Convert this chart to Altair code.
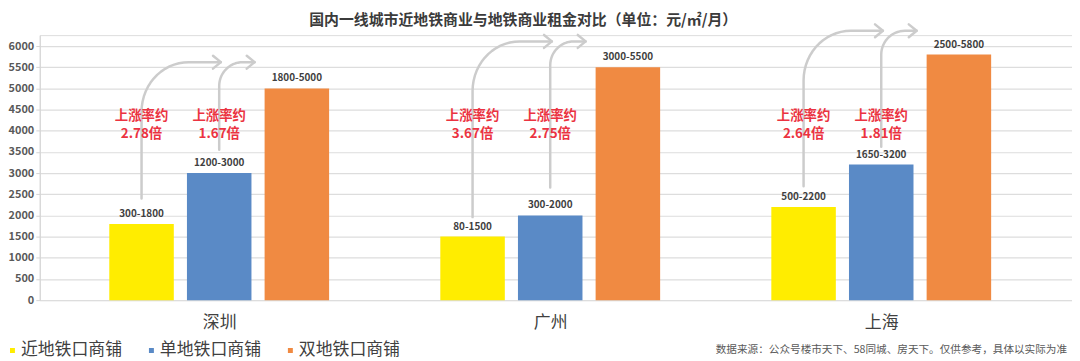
import json
import numpy as np
import pandas as pd
import altair as alt

# ---------------- data ----------------
cities = ["深圳", "广州", "上海"]
shop_types = ["近地铁口商铺", "单地铁口商铺", "双地铁口商铺"]
rent_near = [1800, 1500, 2200]
rent_single = [3000, 2000, 3200]
rent_double = [5000, 5500, 5800]
range_near = ["300-1800", "80-1500", "500-2200"]
range_single = ["1200-3000", "300-2000", "1650-3200"]
range_double = ["1800-5000", "3000-5500", "2500-5800"]
rise_word = "上涨率约"
rise_near = ["2.78倍", "3.67倍", "2.64倍"]
rise_single = ["1.67倍", "2.75倍", "1.81倍"]
rise_line1_level = 4352
rise_line2_level = 3930
arrow_near_bottom = [2400, 1960, 2690]
arrow_single_bottom = [3550, 2660, 3620]
arrow_top = [5620, 6110, 6360]
y_ticks = list(range(0, 6001, 500))
title_text = "国内一线城市近地铁商业与地铁商业租金对比（单位：元/㎡/月）"
source_text = "数据来源：公众号楼市天下、58同城、房天下。仅供参考，具体以实际为准"

# ---------------- layout / style ----------------
FONT = "Noto Sans CJK SC"
colors = ["#FFED00", "#5A8AC6", "#F08A42"]
W, H = 1040, 267
x_dom = [-0.5271, 2.5613]
y_dom = [0, 6258]
px_x = W / (x_dom[1] - x_dom[0])
px_y = H / (y_dom[1] - y_dom[0])
offsets = [-0.2346, 0.0, 0.2346]
tip_offsets = [0.005, 0.107]

# ---------------- tables ----------------
values = [rent_near, rent_single, rent_double]
ranges = [range_near, range_single, range_double]
bar_rows = []
for i, c in enumerate(cities):
    for j, t in enumerate(shop_types):
        bar_rows.append({"city": c, "type": t, "x": i + offsets[j],
                         "y": values[j][i], "label": ranges[j][i]})
bars_df = pd.DataFrame(bar_rows)

rise_rows = []
for i, c in enumerate(cities):
    for j, lab in enumerate([rise_near[i], rise_single[i]]):
        rise_rows.append({"x": i + offsets[j], "y": rise_line1_level, "t": rise_word})
        rise_rows.append({"x": i + offsets[j], "y": rise_line2_level, "t": lab})
rise_df = pd.DataFrame(rise_rows)

arrow_rows = []
radii = [(48, 50), (24, 24)]
head_dx, head_dy = 8 / px_x, 6.5 / px_y
for i, c in enumerate(cities):
    bottoms = [arrow_near_bottom[i], arrow_single_bottom[i]]
    for j in range(2):
        aid = f"{c}-{j}"
        xv = i + offsets[j]
        top = arrow_top[i]
        rx, ry = radii[j][0] / px_x, radii[j][1] / px_y
        tip = i + tip_offsets[j]
        pts = [(xv, bottoms[j])]
        for th in np.linspace(0, np.pi / 2, 16):
            pts.append((xv + rx - rx * np.cos(th), top - ry + ry * np.sin(th)))
        pts.append((tip, top))
        for k, (px, py) in enumerate(pts):
            arrow_rows.append({"id": aid, "seq": k, "x": px, "y": py})
        hid = aid + "-head"
        for k, (px, py) in enumerate([(tip - head_dx, top + head_dy), (tip, top),
                                      (tip - head_dx, top - head_dy)]):
            arrow_rows.append({"id": hid, "seq": k, "x": px, "y": py})
arrow_df = pd.DataFrame(arrow_rows)

# ---------------- encodings ----------------
x_enc = alt.X("x:Q", scale=alt.Scale(domain=x_dom, nice=False, zero=False),
              axis=alt.Axis(values=[0, 1, 2], title=None, domain=False, ticks=False,
                            grid=False,
                            labelExpr=json.dumps(cities, ensure_ascii=False) + "[datum.value]",
                            labelFont=FONT, labelFontSize=17, labelColor="#404040",
                            labelPadding=15))
y_enc = alt.Y("y:Q", scale=alt.Scale(domain=y_dom, nice=False, zero=True),
              axis=alt.Axis(values=y_ticks, format="d", title=None, grid=True,
                            gridColor="#dddddd", gridWidth=1.2, domainColor="#d4d4d4",
                            tickColor="#d4d4d4", tickSize=4, labelPadding=2,
                            labelFont=FONT, labelFontSize=11, labelFontWeight="bold",
                            labelColor="#595959"))

bars = alt.Chart(bars_df).mark_bar(size=65).encode(
    x=x_enc, y=y_enc,
    color=alt.Color("type:N", scale=alt.Scale(domain=shop_types, range=colors),
                    legend=alt.Legend(orient="none", legendX=-36, legendY=309,
                                      direction="horizontal", title=None,
                                      symbolType="square", symbolSize=25,
                                      symbolStrokeWidth=0, labelFont=FONT,
                                      labelFontSize=17, labelColor="#404040",
                                      columnPadding=21, labelOffset=0, padding=0)),
)

bar_labels = alt.Chart(bars_df).mark_text(
    font=FONT, fontSize=10, fontWeight="bold", color="#404040",
    baseline="alphabetic", dy=-7,
).encode(x=x_enc, y=y_enc, text="label:N")

arrows = alt.Chart(arrow_df).mark_line(
    color="#cccccc", strokeWidth=2.5, strokeCap="round", strokeJoin="round",
).encode(x=x_enc, y=y_enc, detail="id:N", order="seq:Q")

rise = alt.Chart(rise_df).mark_text(
    font=FONT, fontSize=13.5, fontWeight="bold", color="#EB3341", baseline="middle",
).encode(x=x_enc, y=y_enc, text="t:N")

title = alt.Chart(pd.DataFrame({"t": [title_text]})).mark_text(
    font=FONT, fontSize=15, fontWeight="bold", color="#3b3b3b", baseline="middle",
    align="center",
).encode(x=alt.value(487), y=alt.value(-15), text="t:N")

source = alt.Chart(pd.DataFrame({"t": [source_text]})).mark_text(
    font=FONT, fontSize=10.7, color="#595959", baseline="middle", align="right",
).encode(x=alt.value(1035), y=alt.value(317), text="t:N")

chart = alt.layer(bars, bar_labels, arrows, rise, title, source).properties(
    width=W, height=H,
    autosize=alt.AutoSizeParams(type="none"),
    padding={"left": 32, "top": 26, "right": 0, "bottom": 60},
).configure_view(stroke=None).configure(background="white")

chart.save("out.html", embed_options={"renderer": "svg", "actions": False})
